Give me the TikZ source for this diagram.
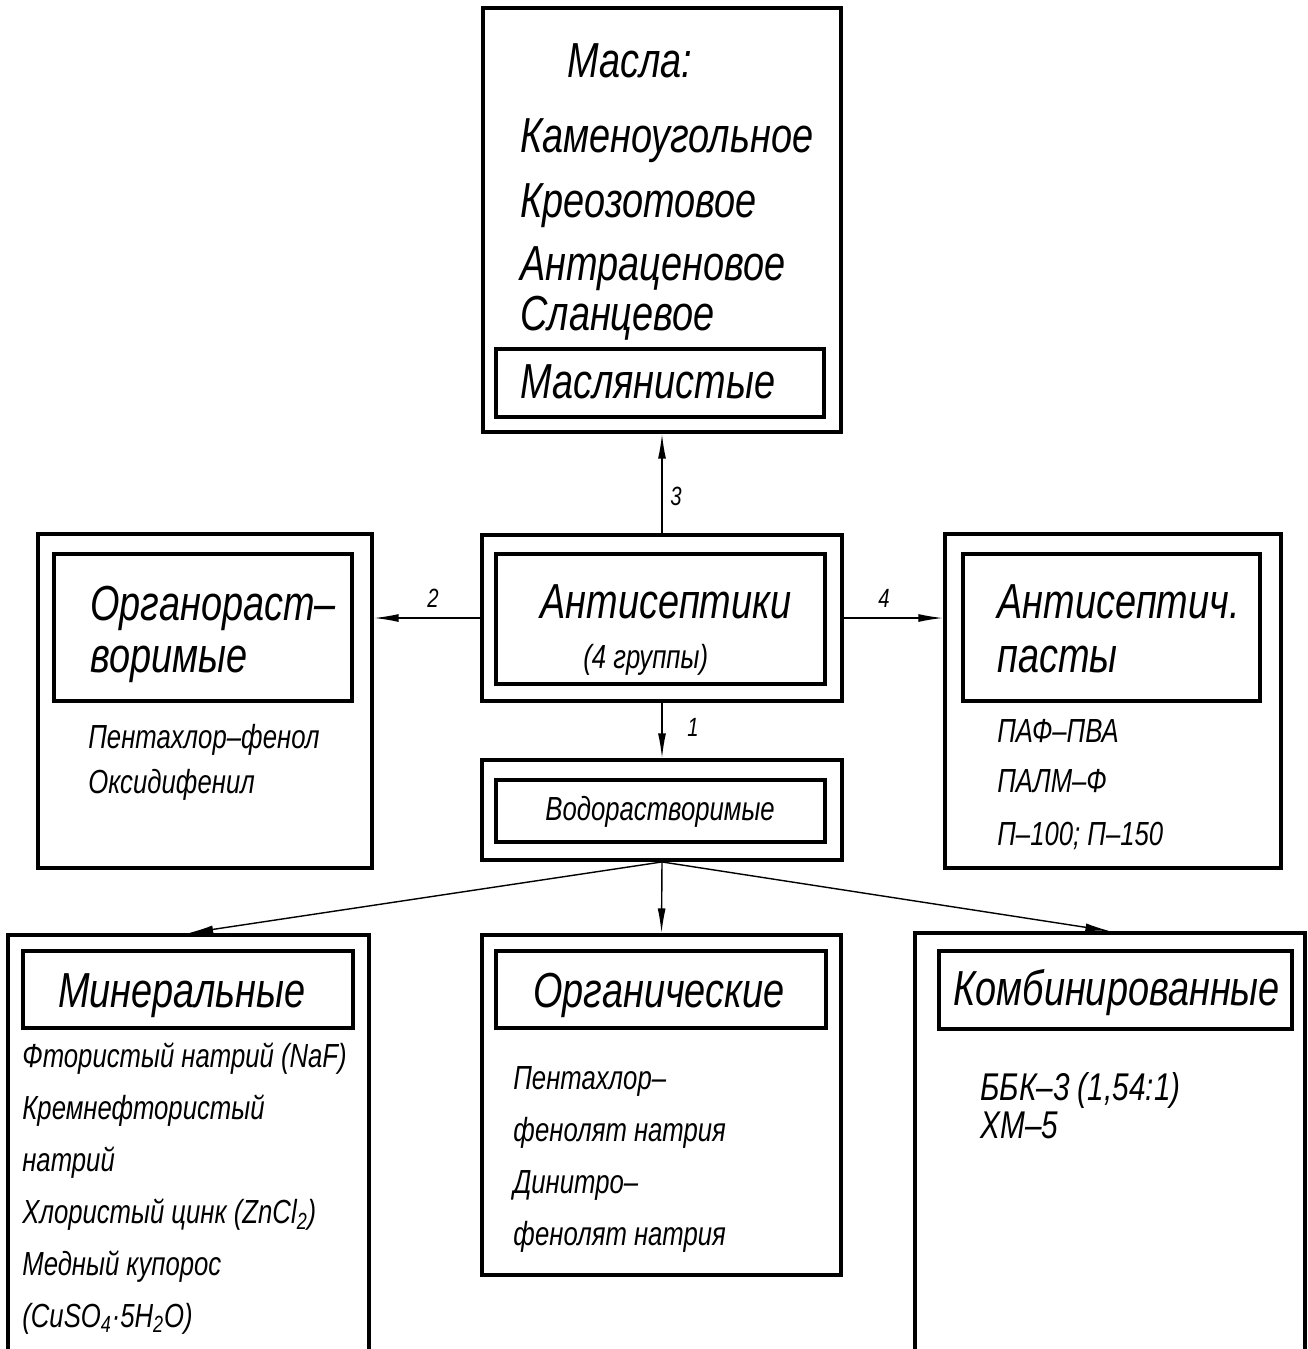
\documentclass[tikz,border=0pt]{standalone}
\usepackage{fontspec}
\newfontfamily\gost[FakeStretch=0.77]{Liberation Sans}
\usetikzlibrary{arrows.meta, positioning, calc}

\begin{document}
\begin{tikzpicture}[x=0.2mm, y=-0.2mm,
  ramka/.style={draw, line width=2.2pt, inner sep=0pt},
  vnutr/.style={draw, line width=1.9pt, inner sep=0pt},
  zag/.style={font=\gost\itshape\fontsize{28}{34}\selectfont, anchor=base west, inner sep=0pt},
  sred/.style={font=\gost\itshape\fontsize{19}{24}\selectfont, anchor=base west, inner sep=0pt},
  spisok/.style={font=\gost\itshape\fontsize{19}{29.5}\selectfont, anchor=base west, align=left, inner sep=0pt},
  nomer/.style={font=\gost\itshape\fontsize{15}{18}\selectfont, inner sep=0pt},
  strelka/.style={-{Latex[length=14pt,width=4.5pt]}, line width=0.8pt}
]
  \useasboundingbox (0,0) rectangle (1308,1349);
  \clip (0,0) rectangle (1308,1349);

  % рамки
  \node[ramka, minimum width=71.6mm, minimum height=84.8mm] (masla) at (662,220) {};
  \node[vnutr, minimum width=65.6mm, minimum height=13.6mm] (maslv) at (660,383) {};
  \node[ramka, minimum width=72mm, minimum height=33.2mm] (antis) at (662,618) {};
  \node[vnutr, minimum width=65.8mm, minimum height=26mm] (antisv) at (660.5,619) {};
  \node[ramka, minimum width=72mm, minimum height=20mm] (voda) at (662,810) {};
  \node[vnutr, minimum width=65.8mm, minimum height=12.4mm] (vodav) at (660.5,811) {};
  \node[ramka, minimum width=66.8mm, minimum height=66.8mm] (org) at (205,701) {};
  \node[vnutr, minimum width=59.6mm, minimum height=29.4mm] (orgv) at (203,627.5) {};
  \node[ramka, minimum width=67.2mm, minimum height=66.8mm] (pasty) at (1113,701) {};
  \node[vnutr, minimum width=59.4mm, minimum height=29.4mm] (pastyv) at (1111.5,627.5) {};
  \node[ramka, minimum width=72.2mm, minimum height=87mm] (miner) at (188.5,1152.5) {};
  \node[vnutr, minimum width=66mm, minimum height=15.4mm] (minerv) at (188,989.5) {};
  \node[ramka, minimum width=71.8mm, minimum height=68mm] (organ) at (661.5,1105) {};
  \node[vnutr, minimum width=66mm, minimum height=15.4mm] (organv) at (661,989.5) {};
  \node[ramka, minimum width=78mm, minimum height=87.4mm] (komb) at (1110,1151.5) {};
  \node[vnutr, minimum width=70.6mm, minimum height=15.6mm] (kombv) at (1115.5,990) {};

  % тексты
  \node[zag] (t1) at (567,77) {Масла:};
  \node[zag] (t2) at (520,152) {Каменоугольное};
  \node[zag] (t3) at (520,217) {Креозотовое};
  \node[zag] (t4) at (520,280) {Антраценовое};
  \node[zag] (t5) at (520,330) {Сланцевое};
  \node[zag] (t6) at (520,398) {Маслянистые};

  \node[zag] (a1) at (540,618) {Антисептики};
  \node[sred] (a2) at (583,668) {(4 группы)};
  \node[sred] (v1) at (545,820) {Водорастворимые};

  \node[zag] (o1) at (90,620) {Органораст–};
  \node[zag] (o2) at (90,672) {воримые};
  \node[sred] (o3) at (88,748) {Пентахлор–фенол};
  \node[sred] (o4) at (88,793) {Оксидифенил};

  \node[zag] (p1) at (997,618) {Антисептич.};
  \node[zag] (p2) at (997,672) {пасты};
  \node[sred] (p3) at (997,742) {ПАФ–ПВА};
  \node[sred] (p4) at (997,792) {ПАЛМ–Ф};
  \node[sred] (p5) at (997,845) {П–100; П–150};

  \node[zag] (m1) at (58,1007) {Минеральные};
  \node[spisok] (m2) at (22,1327) {Фтористый натрий (NaF)\\Кремнефтористый\\натрий\\Хлористый цинк (ZnCl\textsubscript{2})\\Медный купорос\\(CuSO\textsubscript{4}·5H\textsubscript{2}O)};

  \node[zag] (g1) at (533,1007) {Органические};
  \node[spisok] (g2) at (513,1245) {Пентахлор–\\фенолят натрия\\Динитро–\\фенолят натрия};

  \node[zag] (k1) at (953,1005) {Комбинированные};
  \node[spisok, font=\gost\itshape\fontsize{22}{21.5}\selectfont] (k2) at (980,1138) {ББК–3 (1,54:1)\\ХМ–5};

  % стрелки
  \draw[strelka] (antis) -- (masla);
  \draw[strelka] (antis) -- (voda);
  \draw[strelka] (antis.west) -- (antis.west -| org.east);
  \draw[strelka] (antis.east) -- (antis.east -| pasty.west);
  \draw[strelka] (voda.south) -- (miner.north);
  \draw[strelka] (voda.south) -- (organ.north);
  \draw[strelka] (voda.south) -- (komb.north);

  \node[nomer] (n3) at (676,496) {3};
  \node[nomer] (n1) at (693,727) {1};
  \node[nomer] (n2) at (433,598) {2};
  \node[nomer] (n4) at (884,598) {4};
\end{tikzpicture}
\end{document}
